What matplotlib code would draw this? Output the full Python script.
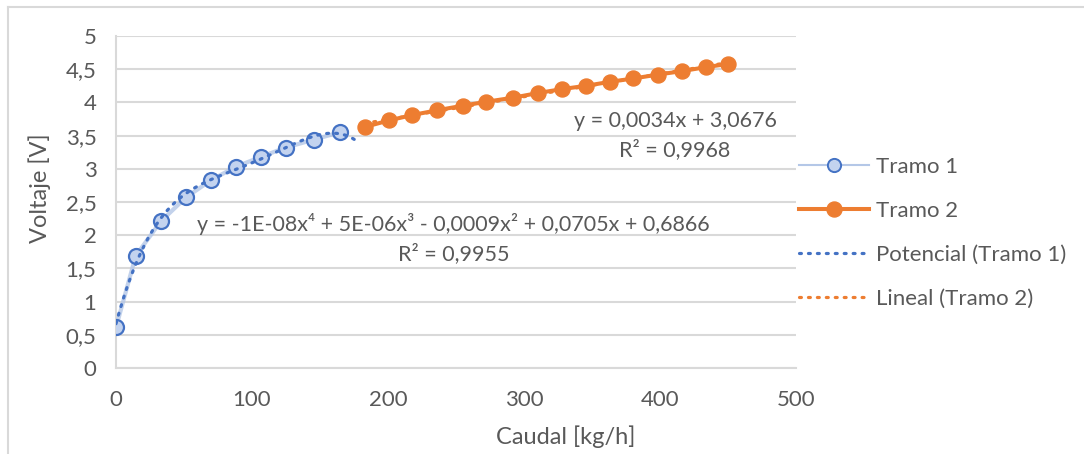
import numpy as np
import matplotlib
matplotlib.use("Agg")
import matplotlib.pyplot as plt
from matplotlib.lines import Line2D

# ---- data ----
tramo1_x = [0, 14.5, 33, 51.5, 70, 88, 106.6, 124.8, 145.6, 164.7]
tramo1_y = [0.61, 1.69, 2.21, 2.57, 2.83, 3.03, 3.18, 3.32, 3.44, 3.55]
tramo2_x = [183, 201, 218, 235.7, 254.8, 272.4, 291.6, 310, 327.7, 345.6,
            363.2, 380.4, 398.8, 415.9, 433.5, 450.2]
tramo2_y = [3.63, 3.73, 3.81, 3.88, 3.95, 4.01, 4.07, 4.14, 4.20, 4.25,
            4.31, 4.36, 4.42, 4.47, 4.53, 4.58]
x_ticks = [0, 100, 200, 300, 400, 500]
y_ticks = [0, 0.5, 1, 1.5, 2, 2.5, 3, 3.5, 4, 4.5, 5]
y_tick_labels = ["0", "0,5", "1", "1,5", "2", "2,5", "3", "3,5", "4", "4,5", "5"]
series_labels = ["Tramo 1", "Tramo 2", "Potencial (Tramo 1)", "Lineal (Tramo 2)"]
eq1 = "y = -1E-08x\u2074 + 5E-06x\u00b3 - 0,0009x\u00b2 + 0,0705x + 0,6866\nR\u00b2 = 0,9955"
eq2 = "y = 0,0034x + 3,0676\nR\u00b2 = 0,9968"
x_label = "Caudal [kg/h]"
y_label = "Voltaje [V]"

# ---- style ----
FONT = ["Lato", "DejaVu Sans"]
plt.rcParams["font.family"] = FONT
TXT = "#595959"
BLUE = "#4472c4"
LBLUE = "#b4c7e7"
MFACE = "#c3d3ef"
ORANGE = "#ed7d31"
GRID = "#d9d9d9"
FS = 15.5

fig = plt.figure(figsize=(10.84, 4.54), dpi=100)
ax = fig.add_axes([116 / 1084, 1 - 368 / 454, (796 - 116) / 1084, (368 - 36) / 454])

DOT = (0, (0.6, 2.2))
# trendlines
c4 = np.polyfit(tramo1_x, tramo1_y, 4)
xt1 = np.linspace(0, 178, 200)
ax.plot(xt1, np.polyval(c4, xt1), color=BLUE, lw=2.3, ls=DOT,
        dash_capstyle="round", zorder=6)
c1 = np.polyfit(tramo2_x, tramo2_y, 1)
xt2 = np.linspace(tramo2_x[0], tramo2_x[-1], 50)
ax.plot(xt2, np.polyval(c1, xt2), color=ORANGE, lw=2.3, ls=DOT,
        dash_capstyle="round", zorder=2)

# series
ax.plot(tramo1_x, tramo1_y, color=LBLUE, lw=3, alpha=0.8, zorder=3)
ax.plot(tramo1_x, tramo1_y, ls="none", marker="o", ms=10.8, mfc=MFACE,
        mec=BLUE, mew=1.6, zorder=5)
ax.plot(tramo2_x, tramo2_y, color=ORANGE, lw=2.9, marker="o", ms=10.8,
        mfc=ORANGE, mec=ORANGE, zorder=7)

ax.set_xlim(0, 500)
ax.set_ylim(0, 5)
ax.set_xticks(x_ticks)
ax.set_xticklabels([str(v) for v in x_ticks])
ax.set_yticks(y_ticks)
ax.set_yticklabels(y_tick_labels)
ax.tick_params(axis="both", length=0, labelsize=FS + 0.5, labelcolor=TXT)
ax.tick_params(axis="x", pad=16)
ax.tick_params(axis="y", pad=14)
ax.grid(axis="y", color=GRID, lw=1.5)
ax.set_axisbelow(True)
for s in ["top", "right"]:
    ax.spines[s].set_visible(False)
for s in ["left", "bottom"]:
    ax.spines[s].set_color(GRID)
    ax.spines[s].set_linewidth(1.5)

ax.set_xlabel(x_label, fontsize=FS + 1.5, color=TXT)
ax.xaxis.set_label_coords((566 - 116) / 680, (368 - 437) / 332)
ax.xaxis.label.set_va("center")
ax.set_ylabel(y_label, fontsize=FS + 1.5, color=TXT)
ax.yaxis.set_label_coords((40 - 116) / 680, (368 - 188) / 332)
ax.yaxis.label.set_va("center")

# equation labels
ax.text(248, 1.95, eq1, ha="center", va="center", fontsize=FS, color=TXT,
        linespacing=1.45, zorder=8)
ax.text(411, 3.5, eq2, ha="center", va="center", fontsize=FS, color=TXT,
        linespacing=1.45, zorder=8)

# legend
handles = [
    Line2D([], [], color=LBLUE, lw=1.5, marker="o", ms=9.5, mfc=MFACE, mec=BLUE, mew=1.4),
    Line2D([], [], color=ORANGE, lw=2.9, marker="o", ms=10.8, mfc=ORANGE, mec=ORANGE),
    Line2D([], [], color=BLUE, lw=2.3, ls=DOT, dash_capstyle="round"),
    Line2D([], [], color=ORANGE, lw=2.3, ls=DOT, dash_capstyle="round"),
]
leg = fig.legend(handles, series_labels, loc="upper left",
                 bbox_to_anchor=(799 / 1084, 1 - 157 / 454), frameon=False,
                 fontsize=FS + 0.5, labelcolor=TXT, handlelength=3.15,
                 handletextpad=0.3, labelspacing=1.08, borderaxespad=0,
                 borderpad=0)

# outer chart border (top and left visible)
fig.add_artist(Line2D([8 / 1084, 8 / 1084], [0, 1 - 7 / 454], color=GRID, lw=1.5,
                      transform=fig.transFigure))
fig.add_artist(Line2D([8 / 1084, 1], [1 - 7 / 454, 1 - 7 / 454], color=GRID, lw=1.5,
                      transform=fig.transFigure))

fig.savefig("out.png", dpi=100)
